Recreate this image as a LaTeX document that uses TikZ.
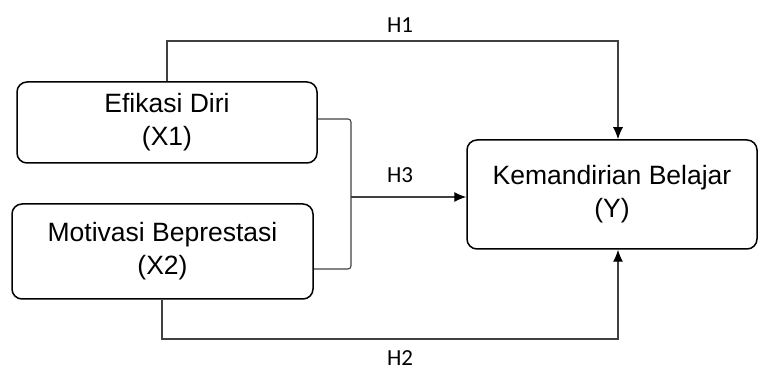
\documentclass[tikz,border=0pt]{standalone}
\usepackage{fontspec}
\setmainfont{Liberation Sans}
\newfontfamily\labelfont{Carlito}
\usepackage{tikz}
\usetikzlibrary{positioning,arrows.meta}

\begin{document}
\begin{tikzpicture}[x=1pt,y=-1pt,>={Latex[length=12pt,width=10pt,color=black]},
    var/.style={draw=black,line width=1.5pt,rounded corners=10pt,align=center,
                inner sep=0pt,font=\fontsize{26.5}{33}\selectfont},
    link/.style={draw=black!75,line width=1.1pt},
    hyp/.style={font=\labelfont\fontsize{23}{26}\selectfont,anchor=base}]
    \useasboundingbox (0,0) rectangle (758,371);
    % ------------------------------------------------------------------
    %                             NODES
    % ------------------------------------------------------------------
    % independent variables
    \node[var,minimum width=300pt,minimum height=81pt] (x1) at (167,122.5) {Efikasi Diri\\(X1)};
    \node[var,minimum width=301pt,minimum height=95pt] (x2) at (162.5,251.5) {Motivasi Beprestasi\\(X2)};
    % dependent variable
    \node[var,minimum width=290pt,minimum height=109pt] (y) at (612,194.5) {Kemandirian Belajar\\(Y)};

    % hypothesis labels
    \node[hyp] (h1) at (400,33)  {H1};
    \node[hyp] (h3) at (400,183) {H3};
    \node[hyp] (h2) at (400,366) {H2};

    % bend points
    \coordinate (top)  at (167,41);
    \coordinate (topr) at (618,41);
    \coordinate (bot)  at (162,339);
    \coordinate (botr) at (618,339);
    \coordinate (br1)  at (351,119);
    \coordinate (br2)  at (351,269);
    \coordinate (br3)  at (351,197);

    % ------------------------------------------------------------------
    %                             EDGES
    % ------------------------------------------------------------------
    % H1
    \draw[link,->] (x1.north) -- (top) -- (topr) -- (y.north -| topr);
    % H2
    \draw[link,->] (x2.south -| bot) -- (bot) -- (botr) -- (y.south -| botr);
    % H3 (joint bracket)
    \draw[link,rounded corners=3pt] (x1.east |- br1) -- (br1) -- (br2) -- (x2.east |- br2);
    \draw[link,->] (br3) -- (y.west |- br3);
\end{tikzpicture}
\end{document}
